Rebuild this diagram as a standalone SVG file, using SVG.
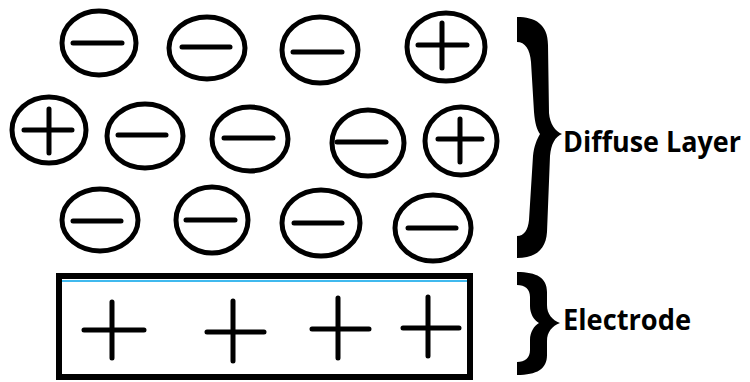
<svg xmlns="http://www.w3.org/2000/svg" width="750" height="382" viewBox="0 0 750 382">
<style>
.ion{fill:#fff;stroke:#000;stroke-width:5}
.sg{stroke:#000;stroke-width:5;stroke-linecap:round;fill:none}
.br{fill:#000}
.lbl{font-family:"Open Sans","Liberation Sans",sans-serif;font-weight:bold;font-size:28px;fill:#000}
</style>
<rect width="750" height="382" fill="#fff"/>
<!-- Row 1 -->
<g id="ion-r1-1"><ellipse class="ion" cx="99" cy="43" rx="37" ry="32"/><path class="sg" d="M73,43H122"/></g>
<g id="ion-r1-2"><ellipse class="ion" cx="207" cy="48" rx="38" ry="31"/><path class="sg" d="M182,47H230"/></g>
<g id="ion-r1-3"><ellipse class="ion" cx="320" cy="50" rx="38" ry="33"/><path class="sg" d="M293,52H342"/></g>
<g id="ion-r1-4"><ellipse class="ion" cx="446" cy="47" rx="39" ry="34"/><path class="sg" d="M418,45H467M442,23V68"/></g>
<!-- Row 2 -->
<g id="ion-r2-1"><ellipse class="ion" cx="49" cy="130" rx="37" ry="33"/><path class="sg" d="M24,130H72M49,109V153"/></g>
<g id="ion-r2-2"><ellipse class="ion" cx="145" cy="136" rx="38" ry="32"/><path class="sg" d="M118,135H166"/></g>
<g id="ion-r2-3"><ellipse class="ion" cx="250" cy="139" rx="38" ry="32"/><path class="sg" d="M224,138H273"/></g>
<g id="ion-r2-4"><ellipse class="ion" cx="368" cy="143" rx="36" ry="33"/><path class="sg" d="M337,142H386"/></g>
<g id="ion-r2-5"><ellipse class="ion" cx="461" cy="141" rx="36" ry="34"/><path class="sg" d="M438,139H482M460,119V162"/></g>
<!-- Row 3 -->
<g id="ion-r3-1"><ellipse class="ion" cx="100" cy="220" rx="38" ry="31"/><path class="sg" d="M73,221H121"/></g>
<g id="ion-r3-2"><ellipse class="ion" cx="212" cy="220" rx="36" ry="33"/><path class="sg" d="M186,220H235"/></g>
<g id="ion-r3-3"><ellipse class="ion" cx="321" cy="223" rx="39" ry="33"/><path class="sg" d="M294,223H342"/></g>
<g id="ion-r3-4"><ellipse class="ion" cx="433" cy="228" rx="38" ry="33"/><path class="sg" d="M408,228H456"/></g>
<!-- Electrode -->
<g id="electrode">
<rect x="59" y="276" width="411" height="101" fill="#fff" stroke="#000" stroke-width="6"/>
<path d="M62,281H467" stroke="#00a2e8" stroke-width="1.5"/>
<path class="sg" d="M84,330H144M112,302V358"/>
<path class="sg" d="M207,332H264M233,301V361"/>
<path class="sg" d="M312,329H369M338,298V358"/>
<path class="sg" d="M403,328H459M428,297V356"/>
</g>
<!-- Braces -->
<g id="connectors">
<path class="br" d="M517,17C535,17 548,24 548,45L549,113C550,124 555,131 562,134C555,137 551,144 550,156L547,232C546,250 535,258 517,258L517,236C524,236 528,230 529,220L533,156C534,146 537,139 540,134C537,130 535,124 534,112L531,62C530,49 525,42 517,42Z"/>
<path class="br" d="M517,272C537,272 547,278 547,292L547,305C547,314 552,320 560,323C552,326 547,332 547,341L547,355C547,369 537,375 517,375L517,362C525,362 530,358 530,350L530,340C530,332 534,326 539,323C534,320 530,314 530,306L530,297C530,289 525,285 517,285Z"/>
</g>
<g id="label-diffuse"><text class="lbl" x="563" y="152" textLength="178" lengthAdjust="spacingAndGlyphs">Diffuse Layer</text></g>
<g id="label-electrode"><text class="lbl" x="563" y="330" textLength="128" lengthAdjust="spacingAndGlyphs">Electrode</text></g>
</svg>
